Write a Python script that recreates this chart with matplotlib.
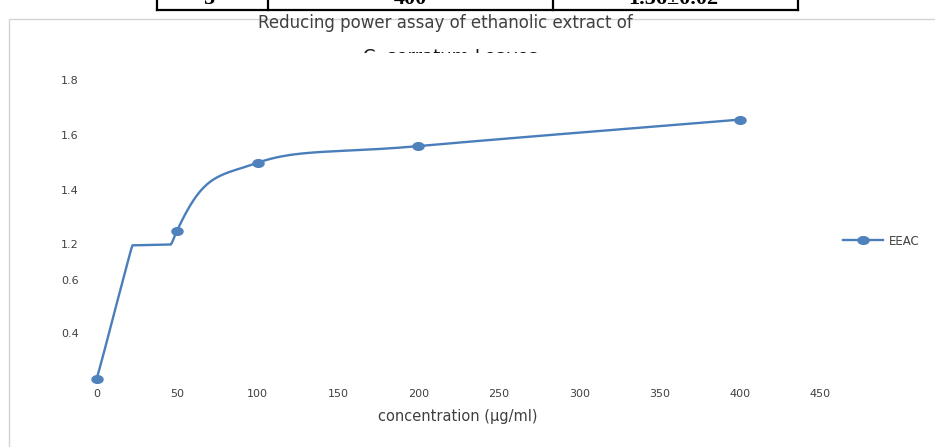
import numpy as np
import matplotlib
matplotlib.use("Agg")
import matplotlib.pyplot as plt
from matplotlib.patches import Rectangle

# values
concentration = [0, 50, 100, 200, 400]
eeac = [0.23, 1.251, 1.499, 1.56, 1.657]
x_ticks = [0, 50, 100, 150, 200, 250, 300, 350, 400, 450]
y_ticks = [0.4, 0.6, 1.2, 1.4, 1.6, 1.8]
table_cells = ["5", "400", "1.56\u00b10.02"]

W, H = 935, 447
LINE_BLUE = "#4A7EBB"
MARK_BLUE = "#4F81BD"
TXT = "#404040"

# the picture's y axis is broken: a band between ~0.73 and 1.2 is cut out
# (pixel rows of the reference, negated so they grow upward)
Y_VALS = [-1.0, 0.6, 0.73, 1.2, 3.0]
Y_POS = [-(280 + 1.6 * 266.5), -280.0, -(280 - 0.13 * 266.5), -244.5, -(244.5 - 1.8 * 273.3)]


def y_fwd(v):
    return np.interp(v, Y_VALS, Y_POS)


def y_inv(u):
    return np.interp(u, Y_POS, Y_VALS)


def smooth(xs, ys, n=80):
    # excel-like smoothed line: bezier segments with catmull-rom tangents
    p = np.column_stack([xs, ys]).astype(float)
    out = []
    for i in range(len(p) - 1):
        prev = p[i - 1] if i > 0 else p[i]
        nxt = p[i + 2] if i + 2 < len(p) else p[i + 1]
        c1 = p[i] + (p[i + 1] - prev) / 6
        c2 = p[i + 1] - (nxt - p[i]) / 6
        t = np.linspace(0, 1, n)[:, None]
        seg = ((1 - t) ** 3 * p[i] + 3 * (1 - t) ** 2 * t * c1
               + 3 * (1 - t) * t ** 2 * c2 + t ** 3 * p[i + 1])
        out.append(seg if i == 0 else seg[1:])
    out = np.vstack(out)
    return out[:, 0], out[:, 1]


# markers in the reference are stretched sideways
th = np.linspace(0, 2 * np.pi, 40)
oval = np.column_stack([1.45 * np.cos(th), np.sin(th)])

fig = plt.figure(figsize=(W / 100, H / 100), dpi=100)
fig.patch.set_facecolor("white")

# chart area border
fig.patches.append(Rectangle((9 / W, -0.1), 1.2, 1 - 19.5 / H + 0.1,
                             transform=fig.transFigure, fill=False,
                             edgecolor="#d4d4d4", lw=1.0))

# piece of the table above the chart
tbl_bottom = 1 - 9.5 / H
fig.add_artist(plt.Line2D([157 / W, 798 / W], [tbl_bottom, tbl_bottom],
                          transform=fig.transFigure, color="black", lw=1.6))
for xv in [157, 268, 553, 798]:
    fig.add_artist(plt.Line2D([xv / W, xv / W], [tbl_bottom, 1.05],
                              transform=fig.transFigure, color="black", lw=1.6))
for xc, txt in zip([209, 410, 673], table_cells):
    fig.text(xc / W, 1 - 4.5 / H, txt, ha="center", va="baseline",
             fontsize=16, family="Liberation Serif", fontweight="bold")

# titles (second line is cut off in the reference)
fig.text(445 / W, 1 - 27.5 / H, "Reducing power assay of ethanolic extract of",
         ha="center", va="baseline", fontsize=12, family="DejaVu Sans", color=TXT)
fig.text(450 / W, 1 - 62 / H, "C. serratum Leaves", ha="center", va="baseline",
         fontsize=13, family="DejaVu Sans", color="#111111")
fig.patches.append(Rectangle((200 / W, 1 - 75 / H), 500 / W, 22 / H,
                             transform=fig.transFigure, facecolor="white",
                             edgecolor="none", zorder=5))

left, right = 96.7, 820.5
top, bottom = 80.5, 386.6
ax = fig.add_axes([left / W, 1 - bottom / H, (right - left) / W, (bottom - top) / H])
ax.set_yscale("function", functions=(y_fwd, y_inv))
ax.set_xlim(0, 450)
ax.set_ylim(0.2, 1.8)

sx, sy = smooth(concentration, eeac)
ax.plot(sx, sy, color=LINE_BLUE, lw=1.7, clip_on=False, solid_capstyle="round")
ax.plot(concentration, eeac, linestyle="none", marker=oval, color=MARK_BLUE,
        ms=8, clip_on=False)
ax.plot([], [], color=LINE_BLUE, lw=1.7, marker=oval, ms=8,
        mfc=MARK_BLUE, mec=MARK_BLUE, label="EEAC")

ax.set_xticks(x_ticks)
ax.set_xticklabels([str(v) for v in x_ticks])
ax.set_yticks(y_ticks)
ax.set_yticks([], minor=True)
ax.set_yticklabels(["%.1f" % v for v in y_ticks])
ax.tick_params(length=0, labelsize=8, labelcolor=TXT)
ax.tick_params(axis="y", pad=13)
ax.tick_params(axis="x", pad=2)
for lab in ax.get_xticklabels() + ax.get_yticklabels():
    lab.set_family("DejaVu Sans")
for s in ax.spines.values():
    s.set_visible(False)

fig.text(458 / W, 1 - 421 / H, "concentration (\u00b5g/ml)", ha="center", va="baseline",
         fontsize=10.5, family="DejaVu Sans", color=TXT)

ax.legend(loc="center left", bbox_to_anchor=(837 / W, 1 - 241 / H),
          bbox_transform=fig.transFigure, frameon=False,
          prop={"family": "DejaVu Sans", "size": 8.5},
          handlelength=3.4, handletextpad=0.5, borderpad=0, labelcolor=TXT)

fig.savefig("out.png", dpi=100, facecolor="white")
